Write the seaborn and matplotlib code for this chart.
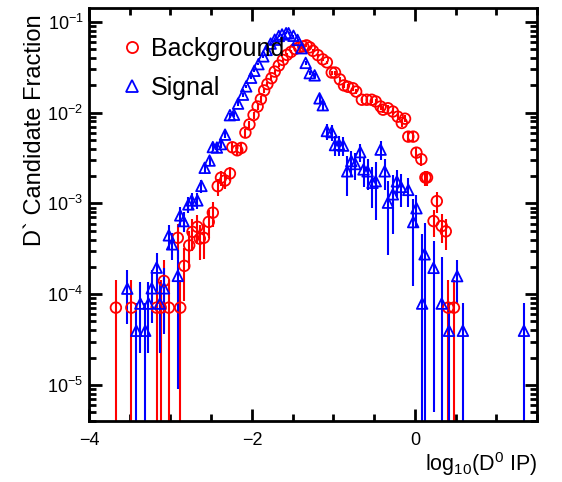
import numpy as np
import matplotlib
matplotlib.use("Agg")
import matplotlib.pyplot as plt
from matplotlib.lines import Line2D
from matplotlib.ticker import FixedLocator, LogLocator, NullFormatter
import seaborn as sns

# background: log10(D0 IP) bin centres and candidate fraction
bkg_x = [-3.67, -3.48, -3.17, -3.12, -3.08, -3.02, -2.91, -2.88, -2.83, -2.77,
         -2.73, -2.67, -2.64, -2.59, -2.53, -2.48, -2.42, -2.38, -2.33, -2.27,
         -2.24, -2.18, -2.13, -2.08, -2.03, -1.98, -1.93, -1.89, -1.85, -1.81,
         -1.76, -1.72, -1.67, -1.62, -1.57, -1.52, -1.47, -1.42, -1.37, -1.33,
         -1.29, -1.25, -1.19, -1.13, -1.08, -1.02, -0.98, -0.92, -0.87, -0.82,
         -0.76, -0.72, -0.65, -0.59, -0.53, -0.48, -0.42, -0.39, -0.33, -0.27,
         -0.21, -0.16, -0.12, -0.08, -0.02, 0.02, 0.08, 0.13, 0.15, 0.23,
         0.27, 0.33, 0.38, 0.41, 0.48]
bkg_y = [7.1e-5, 7.1e-5, 7.1e-5, 7.1e-5, 1.40e-4, 7.1e-5, 4.18e-4, 7.1e-5, 2.05e-4, 3.45e-4,
         4.86e-4, 5.52e-4, 4.09e-4, 4.18e-4, 6.26e-4, 7.91e-4, 1.55e-3, 1.92e-3, 1.79e-3, 2.14e-3,
         4.16e-3, 3.85e-3, 4.09e-3, 6.03e-3, 7.43e-3, 9.44e-3, 1.17e-2, 1.41e-2, 1.76e-2, 2.07e-2,
         2.40e-2, 2.84e-2, 3.31e-2, 3.82e-2, 4.34e-2, 4.68e-2, 5.04e-2, 5.25e-2, 5.38e-2, 5.52e-2,
         5.25e-2, 4.80e-2, 4.31e-2, 3.87e-2, 3.59e-2, 2.77e-2, 2.77e-2, 2.33e-2, 2.00e-2, 1.93e-2,
         1.86e-2, 1.71e-2, 1.39e-2, 1.39e-2, 1.39e-2, 1.33e-2, 1.17e-2, 1.08e-2, 1.12e-2, 1.03e-2,
         9.04e-3, 7.71e-3, 8.59e-3, 5.45e-3, 5.45e-3, 3.63e-3, 3.07e-3, 1.93e-3, 1.93e-3, 6.39e-4,
         1.06e-3, 5.63e-4, 4.92e-4, 7.1e-5, 7.1e-5]
bkg_entries = 14000  # one candidate ~ 7.1e-5, errors are Poisson

# signal
sig_x = [-3.53, -3.42, -3.37, -3.31, -3.27, -3.23, -3.17, -3.13, -3.08, -3.02,
         -2.98, -2.91, -2.88, -2.84, -2.78, -2.74, -2.67, -2.62, -2.58, -2.52,
         -2.48, -2.43, -2.38, -2.33, -2.27, -2.22, -2.17, -2.11, -2.07, -2.01,
         -1.97, -1.92, -1.86, -1.82, -1.77, -1.72, -1.67, -1.63, -1.58, -1.55,
         -1.49, -1.44, -1.39, -1.34, -1.29, -1.23, -1.17, -1.13, -1.08, -1.02,
         -0.98, -0.93, -0.88, -0.83, -0.78, -0.73, -0.67, -0.63, -0.58, -0.52,
         -0.48, -0.42, -0.37, -0.33, -0.27, -0.22, -0.17, -0.08, -0.02, 0.02,
         0.09, 0.12, 0.23, 0.33, 0.42, 0.52, 0.59, 1.34]
sig_y = [1.15e-4, 3.95e-5, 7.87e-5, 3.95e-5, 7.87e-5, 1.16e-4, 1.96e-4, 7.87e-5, 1.16e-4, 4.45e-4,
         3.54e-4, 1.59e-4, 7.38e-4, 6.39e-4, 9.75e-4, 1.08e-3, 1.08e-3, 1.56e-3, 2.47e-3, 2.97e-3,
         4.18e-3, 4.13e-3, 4.51e-3, 5.73e-3, 9.39e-3, 9.50e-3, 1.26e-2, 1.58e-2, 1.95e-2, 2.43e-2,
         2.90e-2, 3.43e-2, 4.18e-2, 4.92e-2, 5.78e-2, 6.38e-2, 7.01e-2, 7.29e-2, 7.52e-2, 7.52e-2,
         7.05e-2, 6.34e-2, 5.14e-2, 3.54e-2, 2.73e-2, 2.58e-2, 1.44e-2, 1.21e-2, 6.29e-3, 6.11e-3,
         4.40e-3, 4.45e-3, 4.34e-3, 2.26e-3, 2.93e-3, 2.72e-3, 3.68e-3, 2.37e-3, 2.26e-3, 1.69e-3,
         1.76e-3, 3.92e-3, 2.26e-3, 1.02e-3, 1.26e-3, 1.75e-3, 1.52e-3, 1.41e-3, 6.23e-4, 8.85e-4,
         7.87e-5, 2.75e-4, 1.95e-4, 7.87e-5, 3.95e-5, 1.58e-4, 3.95e-5, 3.95e-5]
sig_err = [6.8e-5, 3.95e-5, 5.6e-5, 3.95e-5, 5.6e-5, 6.8e-5, 8.8e-5, 5.6e-5, 8.0e-5, 1.33e-4,
           1.18e-4, 1.5e-4, 1.7e-4, 1.6e-4, 1.96e-4, 2.07e-4, 2.07e-4, 2.5e-4, 3.1e-4, 3.4e-4,
           4.1e-4, 4.0e-4, 4.2e-4, 4.8e-4, 6.1e-4, 6.1e-4, 7.1e-4, 7.9e-4, 8.8e-4, 9.8e-4,
           1.07e-3, 1.16e-3, 1.29e-3, 1.39e-3, 1.51e-3, 1.59e-3, 1.66e-3, 1.7e-3, 1.72e-3, 1.72e-3,
           1.67e-3, 1.58e-3, 1.43e-3, 1.8e-3, 1.5e-3, 1.5e-3, 1.5e-3, 1.4e-3, 1.3e-3, 1.2e-3,
           1.1e-3, 1.1e-3, 1.0e-3, 1.05e-3, 0.9e-3, 0.9e-3, 0.8e-3, 0.85e-3, 0.85e-3, 0.8e-3,
           1.1e-3, 0.9e-3, 0.85e-3, 0.75e-3, 0.8e-3, 0.6e-3, 0.6e-3, 0.5e-3, 0.5e-3, 0.35e-3,
           3.8e-4, 3.4e-4, 1.9e-4, 1.75e-4, 3.95e-5, 0.8e-4, 3.95e-5, 3.95e-5]

RED = "#ff0000"
BLUE = "#0000ff"

sns.set_theme(style="ticks")
plt.rcParams["font.family"] = ["Liberation Sans", "DejaVu Sans"]
plt.rcParams["mathtext.default"] = "regular"
plt.rcParams["text.color"] = "black"
plt.rcParams["axes.labelcolor"] = "black"

fig = plt.figure(figsize=(5.62, 4.82), dpi=100)
ax = fig.add_axes([0.1584, 0.1266, 0.7971, 0.8568])

bx = np.array(bkg_x)
by = np.array(bkg_y)
be = np.sqrt(by / bkg_entries)
sx = np.array(sig_x)
sy = np.array(sig_y)
se = np.array(sig_err)


def draw(x, y, err, color, marker):
    low = np.minimum(err, y * 0.9999)
    ax.errorbar(x, y, yerr=[low, err], fmt="none", ecolor=color,
                elinewidth=1.5, capsize=0, zorder=2)
    sns.scatterplot(x=x, y=y, ax=ax, marker=marker, s=58,
                    facecolors="none", edgecolor=color, linewidth=1.3,
                    zorder=3, legend=False)


draw(bx, by, be, RED, "o")
draw(sx, sy, se, BLUE, "^")

ax.set_yscale("log")
ax.set_xlim(-4, 1.5)
ax.set_ylim(4e-6, 0.1426)

ax.xaxis.set_major_locator(FixedLocator([-4, -2, 0]))
ax.xaxis.set_minor_locator(FixedLocator(np.arange(-4, 1.51, 0.5)))
ax.yaxis.set_major_locator(LogLocator(base=10))
ax.yaxis.set_minor_locator(LogLocator(base=10, subs=np.arange(2, 10)))
ax.yaxis.set_minor_formatter(NullFormatter())

ax.tick_params(which="both", direction="in", top=True, right=True,
               labelsize=13, colors="black")
ax.tick_params(which="major", length=9, width=2)
ax.tick_params(which="minor", length=5, width=2)
ax.tick_params(axis="x", pad=8)
ax.tick_params(axis="y", pad=4)
for s in ax.spines.values():
    s.set_linewidth(2)
    s.set_color("black")

ax.set_xlabel(r"log$_{10}$(D$^{0}$ IP)", fontsize=15.5, loc="right", labelpad=1)
ax.set_ylabel("D` Candidate Fraction", fontsize=17, loc="top", labelpad=6)
ax.yaxis.set_label_coords(-0.096, 0.985)

handles = [
    Line2D([], [], ls="none", marker="o", mfc="none", mec=RED, mew=1.3, ms=8),
    Line2D([], [], ls="none", marker="^", mfc="none", mec=BLUE, mew=1.3, ms=8),
]
ax.legend(handles, ["Background", "Signal"], loc="upper left",
          bbox_to_anchor=(0.03, 0.985), frameon=False, fontsize=18,
          handlelength=0.6, handletextpad=0.45, labelspacing=0.6,
          labelcolor="black")

fig.savefig("out.png", dpi=100)
